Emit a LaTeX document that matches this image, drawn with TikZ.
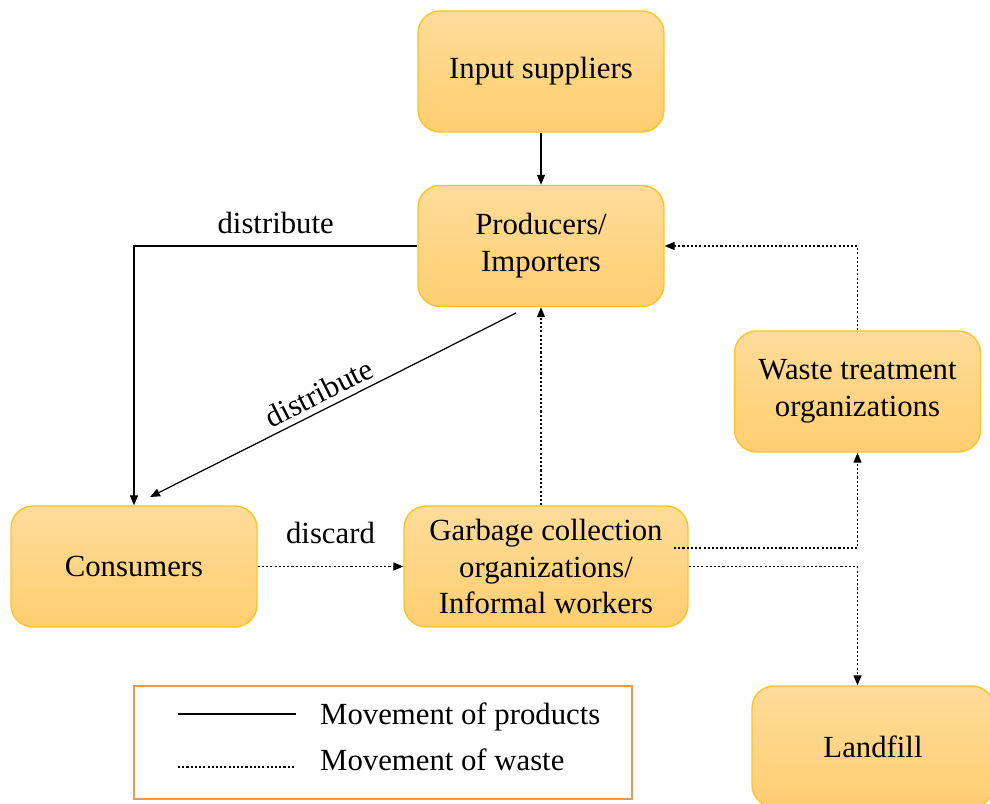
\documentclass[tikz,border=0pt]{standalone}
\usepackage{fontspec}
\setmainfont{Liberation Serif}
\usetikzlibrary{arrows.meta}
\definecolor{BoxTopClr}{RGB}{254,220,154}
\definecolor{BoxBotClr}{RGB}{255,206,112}
\definecolor{BoxLineClr}{RGB}{255,195,40}
\definecolor{KeyClr}{RGB}{244,150,80}

\begin{document}
\begin{tikzpicture}[x=0.02cm,y=-0.02cm,
  font=\fontsize{17.5}{21}\selectfont,
  actor/.style={rounded corners=0.44cm,draw=BoxLineClr,line width=0.8pt,
    top color=BoxTopClr,bottom color=BoxBotClr,
    minimum width=4.92cm,minimum height=2.42cm,align=center,inner sep=0pt},
  product/.style={-{Triangle[length=0.2cm,width=0.16cm]},line width=0.7pt},
  waste/.style={product,dash pattern=on 1.2pt off 1.2pt}]
\useasboundingbox (0,0) rectangle (990,804);

\node[actor] (supply) at (541,71.5) {Input suppliers};
\node[actor] (prod) at (541,246) {Producers/\\Importers};
\node[actor] (treat) at (857.5,391.5) {Waste treatment\\organizations};
\node[actor] (cons) at (134,566.5) {Consumers};
\node[actor,minimum width=5.68cm] (garb) at (546,566.5) {Garbage collection\\organizations/\\Informal workers};
\node[actor,minimum width=4.84cm] (land) at (873,746.5) {Landfill};

\coordinate (pd) at (516,313);
\coordinate (cd) at (150,497);
\coordinate (gt) at (674,548);

\draw[product] (supply) -- (prod);
\draw[product] (prod.west) -| (cons.north) node[pos=0.25,above=3pt] {distribute};
\draw[product] (pd) -- (cd) node[pos=0.5,above,sloped,xshift=-4pt] {distribute};

\draw[waste] (cons) -- (garb) node[midway,above=0.32cm] {discard};
\draw[waste] (prod.south |- garb.north) -- (prod.south);
\draw[waste] (gt) -| (treat.south);
\draw[waste] (garb.east) -| (treat.south |- land.north);
\draw[waste] (treat.north) |- (prod.east);

% key
\node[draw=KeyClr,line width=0.8pt,minimum width=9.96cm,minimum height=2.26cm] (key) at (383,742.5) {};
\coordinate (k1) at (178,714);
\coordinate (k2) at (296,714);
\coordinate (k3) at (178,767);
\coordinate (k4) at (296,767);
\draw[line width=0.7pt] (k1) -- (k2);
\draw[line width=0.7pt,dash pattern=on 1.2pt off 1.2pt] (k3) -- (k4);
\node[anchor=west] (kprod) at (314,717) {Movement of products};
\node[anchor=west] (kwaste) at (314,760) {Movement of waste};

\end{tikzpicture}
\end{document}
